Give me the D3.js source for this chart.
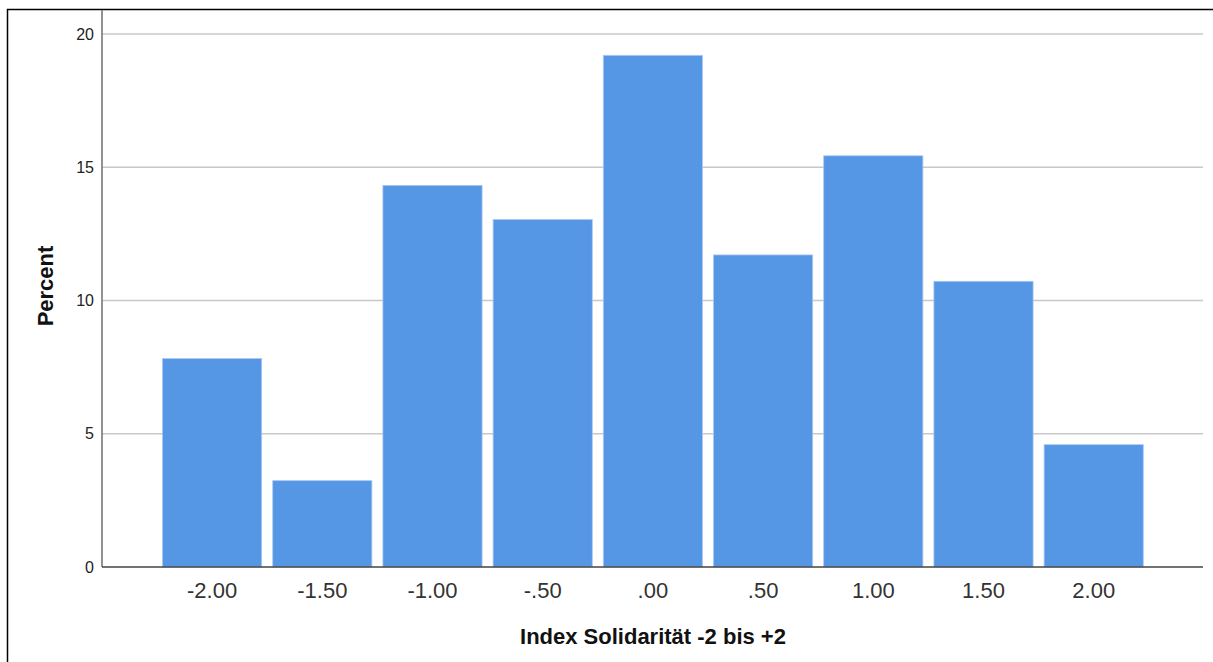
<!DOCTYPE html>
<html>
<head>
<meta charset="utf-8">
<script src="https://cdn.jsdelivr.net/npm/d3@7"></script>
<style>
  html, body { margin: 0; padding: 0; background: #fff; }
  svg { display: block; }
</style>
</head>
<body>
<svg id="chart" width="1213" height="662"></svg>
<script>
const categories = ["-2.00", "-1.50", "-1.00", "-.50", ".00", ".50", "1.00", "1.50", "2.00"];
const percentValues = [7.82, 3.24, 14.32, 13.04, 19.20, 11.71, 15.43, 10.72, 4.59];
const yTickValues = [0, 5, 10, 15, 20];
const xTitle = "Index Solidarität -2 bis +2";
const yTitle = "Percent";

const svg = d3.select("#chart");
const font = "'Liberation Sans', Arial, sans-serif";

// frame
svg.append("rect")
  .attr("x", 7.5).attr("y", 9.5)
  .attr("width", 1230).attr("height", 700)
  .attr("fill", "#fff").attr("stroke", "#000").attr("stroke-width", 1.5);

const x = d3.scaleBand()
  .domain(categories)
  .range([157, 1148.8])
  .paddingInner(0.1)
  .paddingOuter(0.05);

const y = d3.scaleLinear().domain([0, 20]).range([567, 34]);

const axisLeftX = 102, axisRightX = 1203;

// gridlines
svg.append("g")
  .selectAll("line")
  .data(yTickValues.filter(d => d > 0))
  .join("line")
  .attr("x1", axisLeftX).attr("x2", axisRightX)
  .attr("y1", d => y(d)).attr("y2", d => y(d))
  .attr("stroke", "#c8c8c8").attr("stroke-width", 1.6);

// bars
svg.append("g")
  .selectAll("rect")
  .data(categories.map((c, i) => ({ c, v: percentValues[i] })))
  .join("rect")
  .attr("x", d => x(d.c))
  .attr("width", x.bandwidth())
  .attr("y", d => y(d.v))
  .attr("height", d => y(0) - y(d.v))
  .attr("fill", "#5596e5")
  .attr("stroke", "#a9c9f2")
  .attr("stroke-width", 0.8);

// y axis
const yAxis = d3.axisLeft(y).tickValues(yTickValues).tickSize(0).tickPadding(8).tickFormat(d3.format("d"));
const gy = svg.append("g").attr("transform", `translate(${axisLeftX},0)`).call(yAxis);
gy.select(".domain").remove();
gy.selectAll("text").attr("font-family", font).attr("font-size", 16).attr("fill", "#222");
svg.append("line")
  .attr("x1", axisLeftX).attr("x2", axisRightX === 0 ? 0 : axisLeftX)
  .attr("y1", 10).attr("y2", y(0))
  .attr("stroke", "#777").attr("stroke-width", 1.6);

// x axis
const xAxis = d3.axisBottom(x).tickSize(0).tickPadding(15);
const gx = svg.append("g").attr("transform", `translate(0,${y(0)})`).call(xAxis);
gx.select(".domain").remove();
gx.selectAll("text").attr("font-family", font).attr("font-size", 22).attr("fill", "#333");
svg.append("line")
  .attr("x1", axisLeftX).attr("x2", axisRightX)
  .attr("y1", y(0)).attr("y2", y(0))
  .attr("stroke", "#444").attr("stroke-width", 1.4);

// titles
svg.append("text")
  .attr("x", 653).attr("y", 644)
  .attr("text-anchor", "middle")
  .attr("font-family", font).attr("font-size", 22).attr("font-weight", "bold")
  .attr("fill", "#111")
  .text(xTitle);

svg.append("text")
  .attr("transform", "translate(53,286) rotate(-90)")
  .attr("text-anchor", "middle")
  .attr("font-family", font).attr("font-size", 22).attr("font-weight", "bold")
  .attr("fill", "#111")
  .text(yTitle);
</script>
</body>
</html>
